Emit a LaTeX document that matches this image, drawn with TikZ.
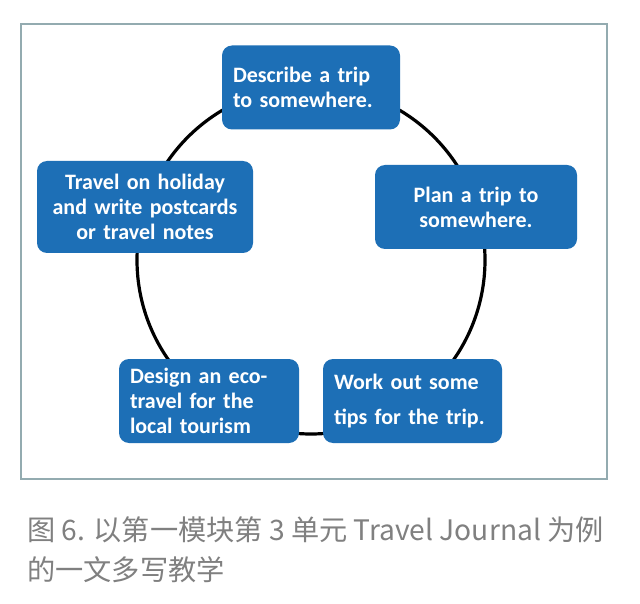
\documentclass[tikz,border=0pt]{standalone}
\usepackage{fontspec}
\setsansfont{Carlito}
\newfontfamily\cjkfont{Noto Sans CJK SC}
\usepackage{xcolor}
\usepackage{tikz}
\usetikzlibrary{positioning}
\definecolor{boxblue}{HTML}{1D6FB6}
\definecolor{framegray}{HTML}{93ABB0}
\definecolor{captiongray}{HTML}{808080}

\begin{document}
\begin{tikzpicture}[
    x=1pt, y=-1pt,
    cnode/.style={fill=boxblue, rounded corners=10pt, text=white, inner xsep=11pt, inner ysep=0pt,
        font=\sffamily\bfseries\fontsize{22}{25}\selectfont, minimum height=#1},
    cnode/.default=84pt,
    ring/.style={line width=3.2pt, black},
]
    \useasboundingbox (0,0) rectangle (640,604);
    \fill[white] (0,0) rectangle (640,604);
    \draw[framegray, line width=1.1pt] (21,24) rectangle (607,479);

    % The cycle
    \coordinate (ctr) at (311,260);
    \draw[ring] (ctr) circle[radius=174pt];

    \node[cnode, text width=156pt, align=left] (describe) at (311,87.5) {Describe a trip\\to somewhere.};
    \node[cnode, text width=180pt, align=center] (plan) at (476,207) {Plan a trip to\\somewhere.};
    \node[cnode=92pt, text width=194pt, align=center] (holiday) at (145,207) {Travel on holiday\\and write postcards\\or travel notes};
    \node[cnode, text width=158pt, align=left] (design) at (209,401) {Design an eco-\\travel for the\\local tourism};
    \node[cnode, text width=157pt, align=left,
        font=\sffamily\bfseries\fontsize{22}{35}\selectfont] (tips) at (412.5,401) {Work out some\\tips for the trip.};

    % Caption
    \node[anchor=west, text=captiongray, align=left, inner sep=0pt,
        font=\cjkfont\fontsize{28.2}{40}\selectfont] (caption) at (27,550)
        {图 6. 以第一模块第 3 单元 Travel Journal 为例\\的一文多写教学};
\end{tikzpicture}
\end{document}
